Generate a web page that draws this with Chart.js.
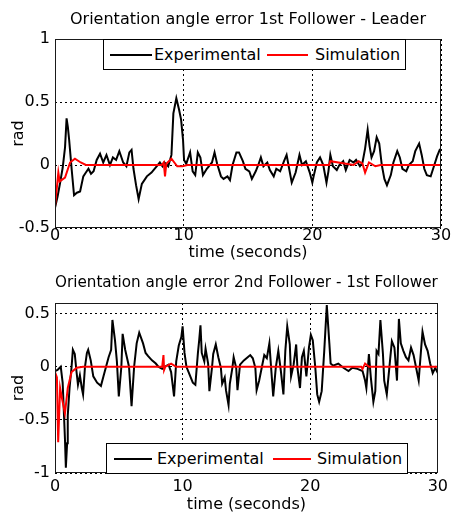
<!DOCTYPE html>
<html><head><meta charset="utf-8">
<script src="https://cdn.jsdelivr.net/npm/chart.js@4.4.1/dist/chart.umd.min.js"></script>
<style>
html,body{margin:0;padding:0;background:#fff;width:454px;height:514px;overflow:hidden;font-family:"DejaVu Sans";}
.wrap{position:absolute;left:0;width:454px;}
canvas{display:block;}
.legend{position:absolute;background:#fff;border:1px solid #000;box-sizing:border-box;font:16px "DejaVu Sans";color:#000;}
.legend .ln{position:absolute;height:2px;top:50%;margin-top:-1px;}
.legend .tx{position:absolute;top:50%;transform:translateY(-50%);line-height:1;white-space:nowrap;}
</style></head><body>
<div class="wrap" style="top:0;height:262px"><canvas id="c1" width="454" height="262"></canvas></div>
<div class="wrap" style="top:262px;height:252px"><canvas id="c2" width="454" height="252"></canvas></div>
<div id="lg1" class="legend" style="left:103px;top:39px;width:303px;height:31px"></div>
<div id="lg2" class="legend" style="left:106px;top:443px;width:302px;height:31px"></div>
<script>
const seriesNames = ['Experimental', 'Simulation'];
const seriesColors = ['#000000', '#ff0000'];
const titleTop = 'Orientation angle error 1st Follower - Leader';
const titleBottom = 'Orientation angle error 2nd Follower - 1st Follower';
const xLabel = 'time (seconds)';
const yLabel = 'rad';
const xTicks = [0, 10, 20, 30];
const yTicksTop = [-0.5, 0, 0.5, 1];
const yTicksBottom = [-1, -0.5, 0, 0.5];

// Top chart: Experimental
const expTopT = [0,0.2,0.4,0.6,0.78,0.9,1.0,1.1,1.3,1.48,1.7,1.95,2.2,2.4,2.6,2.8,3.0,3.24,3.5,3.75,4.0,4.27,4.5,4.75,5.0,5.3,5.55,5.78,5.95,6.1,6.3,6.5,6.75,7.14,7.5,7.9,8.15,8.35,8.5,8.8,9.05,9.2,9.43,9.64,9.8,9.95,10.03,10.2,10.5,10.7,10.9,11.1,11.3,11.5,11.8,12.2,12.4,12.6,12.9,13.1,13.4,13.6,13.8,14.1,14.3,14.6,14.8,15.1,15.3,15.6,15.8,16.0,16.2,16.5,16.7,17.0,17.2,17.5,17.8,18.0,18.2,18.4,18.7,19.0,19.2,19.5,19.8,20.0,20.1,20.35,20.6,20.85,21.1,21.25,21.4,21.6,21.9,22.1,22.4,22.6,22.9,23.2,23.4,23.7,23.9,24.1,24.3,24.45,24.6,24.8,25.0,25.2,25.4,25.6,25.8,26.1,26.3,26.6,26.8,27.0,27.3,27.5,27.8,28.0,28.3,28.5,28.7,28.9,29.2,29.45,29.7,29.9,30];
const expTopV = [-0.34,-0.25,-0.14,-0.02,0.14,0.37,0.3,0.2,-0.04,-0.24,-0.22,-0.21,-0.09,-0.06,-0.03,-0.07,-0.05,0.04,0.09,0.02,0.08,0.0,0.06,0.04,0.11,0.02,-0.01,0.1,0.12,-0.03,-0.16,-0.27,-0.15,-0.09,-0.06,-0.01,0.02,-0.01,0.02,-0.01,0.08,0.41,0.53,0.44,0.36,0.2,0.04,0.01,0.1,-0.05,-0.08,0.1,0.06,-0.08,-0.03,0.02,0.1,0.01,-0.09,-0.11,-0.09,-0.12,0.0,0.1,0.1,0.03,-0.03,-0.05,-0.11,-0.05,0.0,0.06,-0.01,0.02,-0.04,-0.09,-0.03,-0.05,0.03,0.08,-0.03,-0.14,-0.06,0.08,0.0,0.03,-0.06,-0.14,-0.09,0.02,0.06,0.0,-0.14,-0.05,0.08,-0.01,-0.04,0.0,0.03,-0.04,0.04,0.02,0.04,-0.01,0.02,0.13,0.28,0.15,0.06,0.11,0.22,0.17,0.0,-0.11,-0.16,-0.08,0.02,0.11,0.06,-0.03,-0.05,0.0,0.03,0.11,0.17,0.08,-0.03,-0.08,-0.09,-0.01,0.07,0.12,0.13];
// Top chart: Simulation
const simTopT = [0,0.26,0.36,0.78,1.17,1.55,2.0,2.4,8.3,8.45,8.55,8.65,9.05,9.5,9.9,10.3,21.3,21.4,23.2,23.6,23.9,24.1,24.4,24.9,25.3,30];
const simTopV = [-0.33,-0.06,-0.13,-0.1,0.02,0.05,0.02,0.0,0.0,0.02,-0.09,0.01,0.05,-0.01,-0.01,0.0,0.0,0.03,0.0,0.03,0.01,-0.06,0.02,-0.01,0.0,0.0];

// Bottom chart: Experimental
const expBotT = [0,0.2,0.45,0.6,0.78,0.85,0.95,1.0,1.14,1.3,1.4,1.55,1.68,1.8,1.95,2.1,2.2,2.35,2.5,2.6,2.8,3.0,3.3,3.6,3.8,4.0,4.2,4.4,4.5,4.7,4.85,5.0,5.2,5.3,5.5,5.8,6.0,6.2,6.4,6.6,6.9,7.1,7.3,7.6,7.9,8.1,8.4,8.6,8.9,9.1,9.33,9.5,9.7,9.9,10.0,10.15,10.3,10.5,10.8,11.0,11.2,11.3,11.4,11.5,11.7,11.8,12.0,12.1,12.3,12.4,12.6,12.8,13.0,13.1,13.3,13.4,13.6,13.7,13.9,14.0,14.2,14.3,14.5,14.8,15.1,15.3,15.5,15.7,15.8,16.0,16.2,16.4,16.6,16.8,16.9,17.1,17.3,17.5,17.7,17.9,18.05,18.2,18.4,18.5,18.7,18.9,19.0,19.2,19.35,19.5,19.7,19.9,20.05,20.2,20.4,20.55,20.7,20.9,21.1,21.3,21.5,21.6,21.8,22.2,22.6,23.0,23.3,23.7,24.1,24.3,24.4,24.6,24.75,24.95,25.1,25.2,25.35,25.5,25.7,25.8,26.0,26.2,26.4,26.6,26.8,26.95,27.1,27.3,27.5,27.7,27.9,28.1,28.3,28.5,28.7,28.8,29.0,29.2,29.4,29.6,29.8,30];
const expBotV = [-0.04,-0.03,0.0,-0.15,-0.68,-0.95,-0.72,-0.46,-0.2,0.0,0.16,0.12,-0.04,-0.17,-0.08,-0.2,-0.26,0.0,0.13,0.16,0.06,-0.09,-0.15,-0.18,-0.09,0.0,0.09,0.16,0.44,0.25,0.05,-0.28,0.0,0.31,0.16,0.0,-0.37,0.0,0.22,0.32,0.22,0.13,0.1,0.06,0.03,0.0,-0.02,0.0,0.02,-0.05,-0.28,0.05,0.2,0.28,0.38,0.13,0.0,-0.06,-0.15,-0.17,0.13,0.25,0.39,0.13,0.05,0.17,0.03,-0.23,-0.01,0.12,0.21,0.09,-0.01,-0.16,-0.1,-0.22,-0.36,-0.16,-0.01,0.09,-0.01,-0.22,0.02,0.06,0.09,0.11,0.08,-0.01,-0.22,-0.13,-0.01,0.11,0.08,0.22,0.05,-0.28,-0.01,0.15,-0.04,-0.26,0.15,0.38,0.21,-0.09,0.02,0.21,-0.01,-0.2,0.09,0.15,-0.09,0.18,0.3,0.25,-0.01,-0.26,-0.33,-0.23,0.15,0.58,0.22,0.03,0.01,0.03,-0.01,-0.04,-0.01,-0.02,-0.04,-0.13,-0.2,0.12,-0.1,-0.33,-0.23,0.15,0.12,0.44,0.12,-0.13,-0.26,-0.01,0.24,0.18,-0.13,0.45,0.22,0.15,0.09,0.06,0.18,0.11,-0.01,-0.13,0.18,0.33,0.21,0.15,0.03,-0.06,-0.01,-0.06];
// Bottom chart: Simulation
const simBotT = [0,0.15,0.25,0.4,0.55,0.78,1.0,1.3,1.7,2.2,8.4,8.5,8.55,8.65,9.1,9.5,24.0,24.1,24.3,24.6,30];
const simBotV = [-0.05,-0.1,-0.71,-0.2,-0.3,-0.44,-0.2,-0.05,-0.01,0.0,0.0,0.11,-0.03,0.0,0.03,0.0,0.0,-0.02,0.03,0.0,0.0];

const FONT = 'DejaVu Sans';
function pts(t, v) { return t.map((x, i) => ({ x: x, y: v[i] })); }

const boxPlugin = {
  id: 'box',
  afterDatasetsDraw(chart) {
    const a = chart.chartArea, c = chart.ctx;
    c.save();
    c.strokeStyle = '#1a1a1a'; c.lineWidth = 1; c.setLineDash([]);
    c.strokeRect(Math.round(a.left) + 0.5, Math.round(a.top) + 0.5, Math.round(a.right - a.left) - 1, Math.round(a.bottom - a.top) - 1);
    c.restore();
  }
};

function makeChart(id, o) {
  const tickFont = { family: FONT, size: 16, lineHeight: 1 };
  const labFont = { family: FONT, size: 16, lineHeight: 1.2 };
  return new Chart(document.getElementById(id), {
    type: 'line',
    data: { datasets: [
      { label: seriesNames[0], data: pts(o.et, o.ev), borderColor: seriesColors[0], borderWidth: 2, pointRadius: 0, tension: 0, order: 2 },
      { label: seriesNames[1], data: pts(o.st, o.sv), borderColor: seriesColors[1], borderWidth: 2, pointRadius: 0, tension: 0, order: 1 }
    ] },
    options: {
      responsive: false, animation: false, devicePixelRatio: 1,
      layout: { padding: { left: 0, right: 13, top: 0, bottom: 0 } },
      plugins: {
        legend: { display: false }, tooltip: { enabled: false },
        title: { display: true, text: o.title, fullSize: false, color: '#000',
          font: { family: FONT, size: 16, weight: 'normal', lineHeight: 1.2 },
          padding: { top: o.tp, bottom: o.tb } }
      },
      scales: {
        x: { type: 'linear', min: 0, max: 30,
          afterBuildTicks: s => { s.ticks = xTicks.map(v => ({ value: v })); },
          afterFit: s => { s.height = o.xh; },
          ticks: { font: tickFont, color: '#000', padding: o.xpad, maxRotation: 0, autoSkip: false, callback: v => String(v) },
          grid: { color: '#000', lineWidth: 1, drawTicks: false },
          border: { display: false, dash: [2, 3] },
          title: { display: true, text: xLabel, color: '#000', font: labFont, padding: { top: 0, bottom: 0 } } },
        y: { type: 'linear', min: o.ymin, max: o.ymax,
          afterBuildTicks: s => { s.ticks = o.yt.map(v => ({ value: v })); },
          afterFit: s => { s.width = 55; },
          ticks: { font: tickFont, color: '#000', padding: 5, autoSkip: false, callback: v => String(v) },
          grid: { color: '#000', lineWidth: 1, drawTicks: false },
          border: { display: false, dash: [2, 3] },
          title: { display: true, text: yLabel, color: '#000', font: labFont, padding: { top: 9, bottom: 0 } } }
      }
    },
    plugins: [boxPlugin]
  });
}

makeChart('c1', { et: expTopT, ev: expTopV, st: simTopT, sv: simTopV, title: titleTop, tp: 10.4, tb: 9.4, xh: 34, xpad: 0, ymin: -0.5, ymax: 1, yt: yTicksTop });
makeChart('c2', { et: expBotT, ev: expBotV, st: simBotT, sv: simBotV, title: titleBottom, tp: 11.4, tb: 10.4, xh: 41, xpad: 6, ymin: -1, ymax: 0.6, yt: yTicksBottom });

function buildLegend(id, pos) {
  const el = document.getElementById(id);
  seriesNames.forEach((n, i) => {
    const ln = document.createElement('div');
    ln.className = 'ln'; ln.style.left = pos[i][0] + 'px'; ln.style.width = pos[i][1] + 'px'; ln.style.background = seriesColors[i];
    const tx = document.createElement('div');
    tx.className = 'tx'; tx.style.left = pos[i][2] + 'px'; tx.textContent = n;
    el.appendChild(ln); el.appendChild(tx);
  });
}
buildLegend('lg1', [[6, 42, 50], [163, 41, 211]]);
buildLegend('lg2', [[7, 38, 50], [166, 38, 210]]);
</script>
</body></html>
